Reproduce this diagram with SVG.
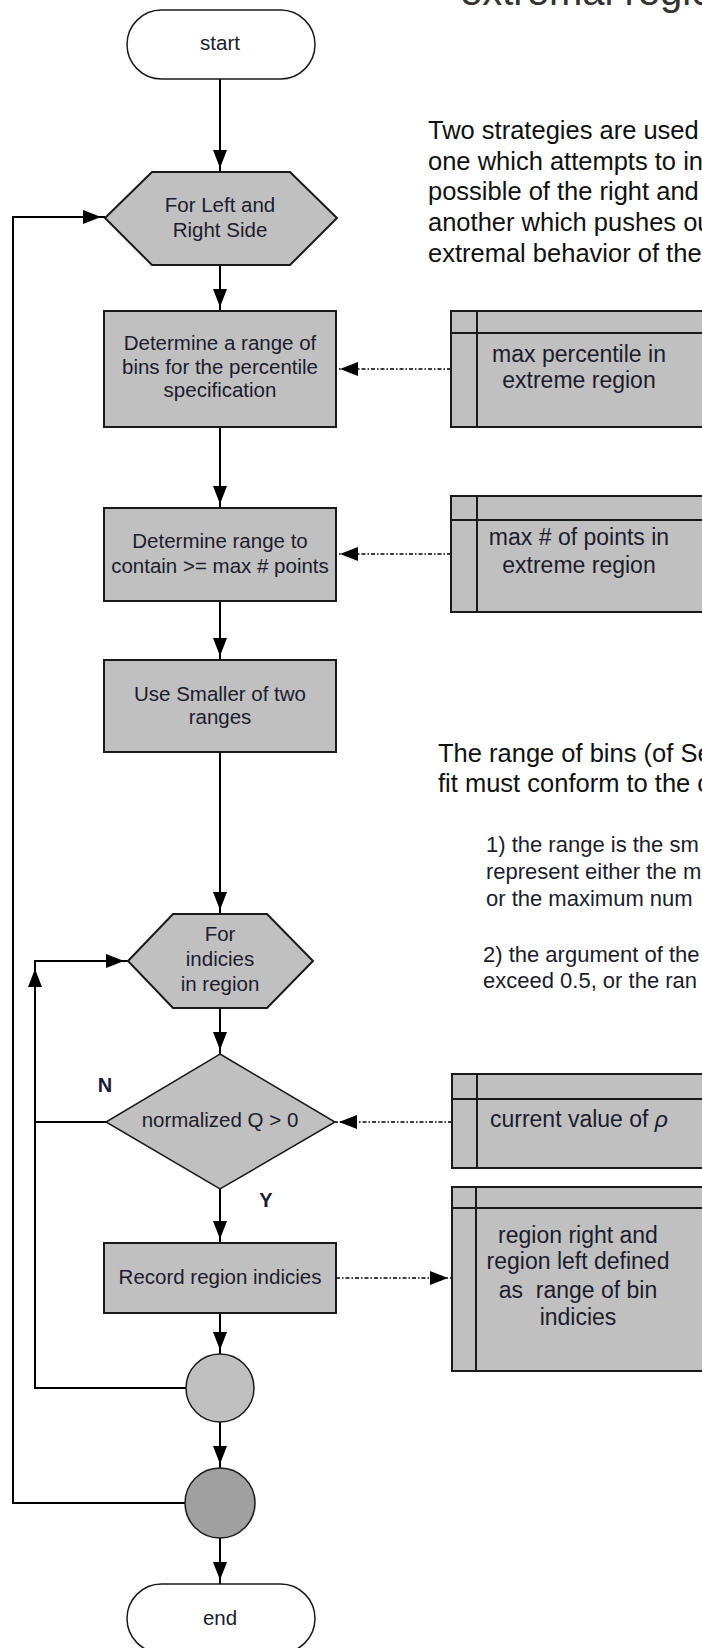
<svg xmlns="http://www.w3.org/2000/svg" width="702" height="1648" viewBox="0 0 702 1648">
<defs>
<marker id="arr" markerUnits="userSpaceOnUse" markerWidth="22" markerHeight="16" viewBox="0 0 22 16" refX="22" refY="8" orient="auto"><path d="M0,1 L18,8 L0,15 Z" fill="#000"/></marker>
</defs>
<style>
.node{fill:#c0c0c0;stroke:#1a1a1a;stroke-width:2}
.term{fill:#fff;stroke:#1a1a1a;stroke-width:1.5}
.dark{fill:#a0a0a0;stroke:#1a1a1a;stroke-width:1.5}
.line{fill:none;stroke:#1a1a1a;stroke-width:2}
text{font-family:"Liberation Sans",Arial,sans-serif}
.t{font-size:20.5px;fill:#1c1c2c;text-anchor:middle}
.nt{font-size:23px;fill:#1c1c2c;text-anchor:middle}
.lab{font-size:20px;font-weight:bold;fill:#1a1a3a;text-anchor:middle}
.para{font-size:25.5px;fill:#111}
.small{font-size:22px;fill:#1c1c2c}
.title{font-size:40px;fill:#333}
.c{fill:none;stroke:#000;stroke-width:2;marker-end:url(#arr)}
.d{fill:none;stroke:#000;stroke-width:1.5;stroke-dasharray:4 2 1.5 2;marker-end:url(#arr)}
</style>
<rect width="702" height="1648" fill="#fff"/>

<text class="title" x="460" y="5">extremal region</text>

<g id="para1">
<text class="para" x="428" y="139">Two strategies are used</text>
<text class="para" x="428" y="170">one which attempts to in</text>
<text class="para" x="428" y="200">possible of the right and</text>
<text class="para" x="428" y="231">another which pushes ou</text>
<text class="para" x="428" y="262">extremal behavior of the</text>
</g>
<g id="para2">
<text class="para" x="438" y="762">The range of bins (of Se</text>
<text class="para" x="438" y="792">fit must conform to the c</text>
</g>
<g id="para3">
<text class="small" x="486" y="852">1) the range is the sm</text>
<text class="small" x="486" y="879">represent either the m</text>
<text class="small" x="486" y="906">or the maximum num</text>
</g>
<g id="para4">
<text class="small" x="483" y="962">2) the argument of the</text>
<text class="small" x="483" y="988">exceed 0.5, or the ran</text>
</g>

<g id="connectors">
<path class="c" d="M220,79 V172"/>
<path class="c" d="M220,265 V311"/>
<path class="c" d="M220,427 V508"/>
<path class="c" d="M220,601 V660"/>
<path class="c" d="M220,752 V914"/>
<path class="c" d="M220,1008 V1054"/>
<path class="c" d="M220,1189 V1243"/>
<path class="c" d="M220,1313 V1354"/>
<path class="c" d="M220,1422 V1468"/>
<path class="c" d="M220,1538 V1584"/>
<path class="c" d="M106,1122 H35 V965"/>
<path class="c" d="M186,1388 H35 V961 H128"/>
<path class="c" d="M185,1503 H13 V217 H105"/>
<path class="d" d="M451,369 H336"/>
<path class="d" d="M451,554 H336"/>
<path class="d" d="M452,1122 H335"/>
<path class="d" d="M336,1278 H452"/>
</g>

<g id="start">
<rect class="term" x="127" y="10" width="188" height="69" rx="34.5"/>
<text class="t" x="220" y="50">start</text>
</g>

<g id="forSide">
<polygon class="node" points="105,218 152,172 290,172 337,218 290,265 152,265"/>
<text class="t" x="220" y="212">For Left and</text>
<text class="t" x="220" y="237">Right Side</text>
</g>

<g id="percentileRange">
<rect class="node" x="104" y="311" width="232" height="116"/>
<text class="t" x="220" y="350">Determine a range of</text>
<text class="t" x="220" y="374">bins for the percentile</text>
<text class="t" x="220" y="397">specification</text>
</g>

<g id="pointsRange">
<rect class="node" x="104" y="508" width="232" height="93"/>
<text class="t" x="220" y="548">Determine range to</text>
<text class="t" x="220" y="573">contain &gt;= max # points</text>
</g>

<g id="smaller">
<rect class="node" x="104" y="660" width="232" height="92"/>
<text class="t" x="220" y="701">Use Smaller of two</text>
<text class="t" x="220" y="724">ranges</text>
</g>

<g id="forIndicies">
<polygon class="node" points="128,961 173,914 267,914 313,961 267,1008 173,1008"/>
<text class="t" x="220" y="941">For</text>
<text class="t" x="220" y="966">indicies</text>
<text class="t" x="220" y="991">in region</text>
</g>

<g id="decision">
<polygon class="node" style="stroke-width:1.5" points="220,1054 335,1122 220,1189 106,1122"/>
<text class="t" x="220" y="1127">normalized Q &gt; 0</text>
<text class="lab" x="105" y="1092">N</text>
<text class="lab" x="266" y="1207">Y</text>
</g>

<g id="record">
<rect class="node" x="104" y="1243" width="232" height="70"/>
<text class="t" x="220" y="1284">Record region indicies</text>
</g>

<g id="junction1">
<circle class="node" style="stroke-width:1.5" cx="220" cy="1388" r="34"/>
</g>

<g id="junction2">
<circle class="dark" cx="220" cy="1503" r="35"/>
</g>

<g id="end">
<rect class="term" x="127" y="1584" width="188" height="69" rx="34.5"/>
<text class="t" x="220" y="1625">end</text>
</g>

<g id="notePercentile">
<rect class="node" x="451" y="311" width="270" height="116"/>
<path class="line" d="M451,333 H721 M477,311 V427"/>
<text class="nt" x="579" y="362">max percentile in</text>
<text class="nt" x="579" y="388">extreme region</text>
</g>

<g id="notePoints">
<rect class="node" x="451" y="496" width="270" height="116"/>
<path class="line" d="M451,520 H721 M477,496 V612"/>
<text class="nt" x="579" y="545">max # of points in</text>
<text class="nt" x="579" y="573">extreme region</text>
</g>

<g id="noteRho">
<rect class="node" x="452" y="1074" width="270" height="94"/>
<path class="line" d="M452,1099 H722 M477,1074 V1168"/>
<text class="nt" x="579" y="1127">current value of <tspan font-style="italic">ρ</tspan></text>
</g>

<g id="noteRegion">
<rect class="node" x="452" y="1187" width="270" height="184"/>
<path class="line" d="M452,1208 H722 M476,1187 V1371"/>
<text class="nt" x="578" y="1243">region right and</text>
<text class="nt" x="578" y="1269">region left defined</text>
<text class="nt" x="578" y="1298" style="white-space:pre">as  range of bin</text>
<text class="nt" x="578" y="1325">indicies</text>
</g>
</svg>
